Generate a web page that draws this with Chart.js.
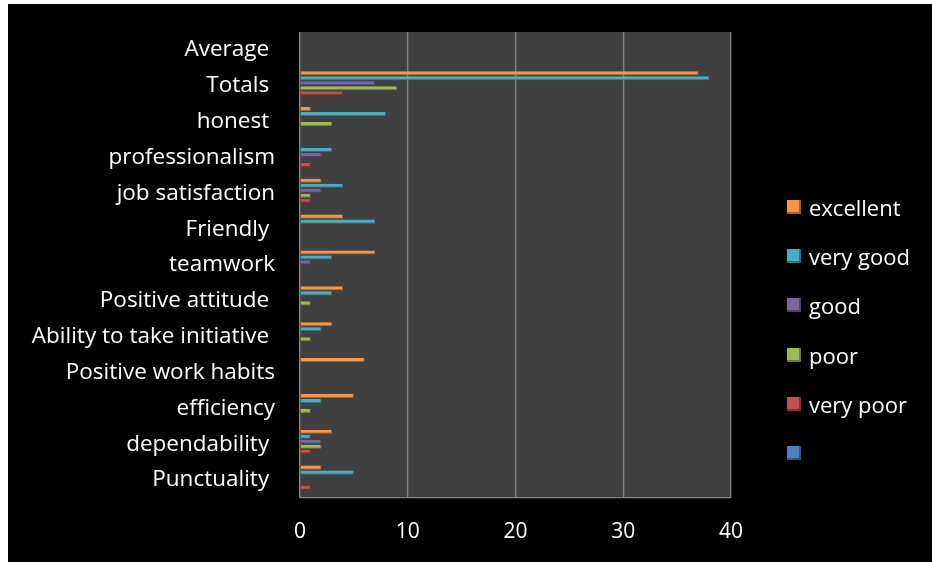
<!DOCTYPE html>
<html>
<head>
<meta charset="utf-8">
<script src="https://cdn.jsdelivr.net/npm/chart.js@4"></script>
<style>
  body { margin: 0; background: #fff; }
  #wrap { position: absolute; left: 8px; top: 4px; width: 924px; height: 558px; background: #000; }
  #legend { position: absolute; left: 779px; top: 190px; font-family: "Open Sans", sans-serif; font-size: 22px; color: #fff; }
  .item { display: flex; align-items: center; height: 26px; margin-bottom: 23.2px; }
  .box { width: 14px; height: 14px; margin-right: 8px; box-sizing: border-box; }
</style>
</head>
<body>
<div id="wrap">
  <canvas id="chart" width="924" height="558"></canvas>
  <div id="legend"></div>
</div>
<script>
// categories top to bottom (trailing spaces as in the source sheet)
const categories = ["Average ", "Totals ", "honest ", "professionalism", "job satisfaction", "Friendly ",
  "teamwork", "Positive attitude ", "Ability to take initiative ", "Positive work habits",
  "efficiency", "dependability ", "Punctuality "];

const excellent = [null, 37, 1, 0, 2, 4, 7, 4, 3, 6, 5, 3, 2];
const veryGood  = [null, 38, 8, 3, 4, 7, 3, 3, 2, 0, 2, 1, 5];
const good      = [null, 7, 0, 2, 2, 0, 1, 0, 0, 0, 0, 2, 0];
const poor      = [null, 9, 3, 0, 1, 0, 0, 1, 1, 0, 1, 2, 0];
const veryPoor  = [null, 4, 0, 1, 1, 0, 0, 0, 0, 0, 0, 1, 1];
const blank     = [null, null, null, null, null, null, null, null, null, null, null, null, null];

const seriesNames = ["excellent", "very good", "good", "poor", "very poor", ""];
const xTicks = [0, 10, 20, 30, 40];

const colors = ["#F79646", "#4BACC6", "#8064A2", "#9BBB59", "#C0504D", "#4F81BD"];
const edges  = ["#A8601F", "#2A7386", "#533F70", "#66802F", "#862F2C", "#2E5585"];
const font = "'Open Sans', sans-serif";

const plotBg = {
  id: "plotBg",
  beforeDraw(chart) {
    const a = chart.chartArea, ctx = chart.ctx;
    ctx.save();
    ctx.fillStyle = "#404040";
    ctx.fillRect(a.left, a.top, a.right - a.left, a.bottom - a.top);
    ctx.restore();
  }
};

const values = [excellent, veryGood, good, poor, veryPoor, blank];
const datasets = values.map((d, i) => ({
  label: seriesNames[i],
  data: d,
  backgroundColor: colors[i],
  borderColor: edges[i],
  borderWidth: {top: 0, left: 0, right: 1, bottom: 1},
  borderSkipped: false,
  categoryPercentage: 0.837,
  barPercentage: 0.82
}));

new Chart(document.getElementById("chart"), {
  type: "bar",
  data: { labels: categories, datasets },
  options: {
    indexAxis: "y",
    responsive: false,
    animation: false,
    devicePixelRatio: 1,
    layout: { padding: { top: 28, right: 201, bottom: 0, left: 0 } },
    plugins: { legend: { display: false }, tooltip: { enabled: false } },
    scales: {
      x: {
        min: 0, max: 40,
        afterBuildTicks: s => { s.ticks = xTicks.map(v => ({value: v})); },
        afterFit: s => { s.height = 64; s.paddingLeft = 0; s.paddingRight = 0; },
        ticks: { color: "#fff", font: { family: font, size: 21 }, padding: 21 },
        grid: { color: "#868686", lineWidth: 1.3, drawTicks: false },
        border: { display: true, color: "#868686", width: 1.3 }
      },
      y: {
        afterFit: s => { s.width = 292; s.paddingTop = 0; s.paddingBottom = 0; },
        ticks: { color: "#fff", font: { family: font, size: 22.5 }, padding: 25, autoSkip: false },
        grid: { display: false, drawTicks: false },
        border: { display: false }
      }
    }
  },
  plugins: [plotBg]
});

// legend
const lg = document.getElementById("legend");
seriesNames.forEach((name, i) => {
  const it = document.createElement("div");
  it.className = "item";
  it.innerHTML = `<span class="box" style="background:${colors[i]};border-bottom:2px solid ${edges[i]};border-right:2px solid ${edges[i]}"></span><span>${name}</span>`;
  lg.appendChild(it);
});
</script>
</body>
</html>
